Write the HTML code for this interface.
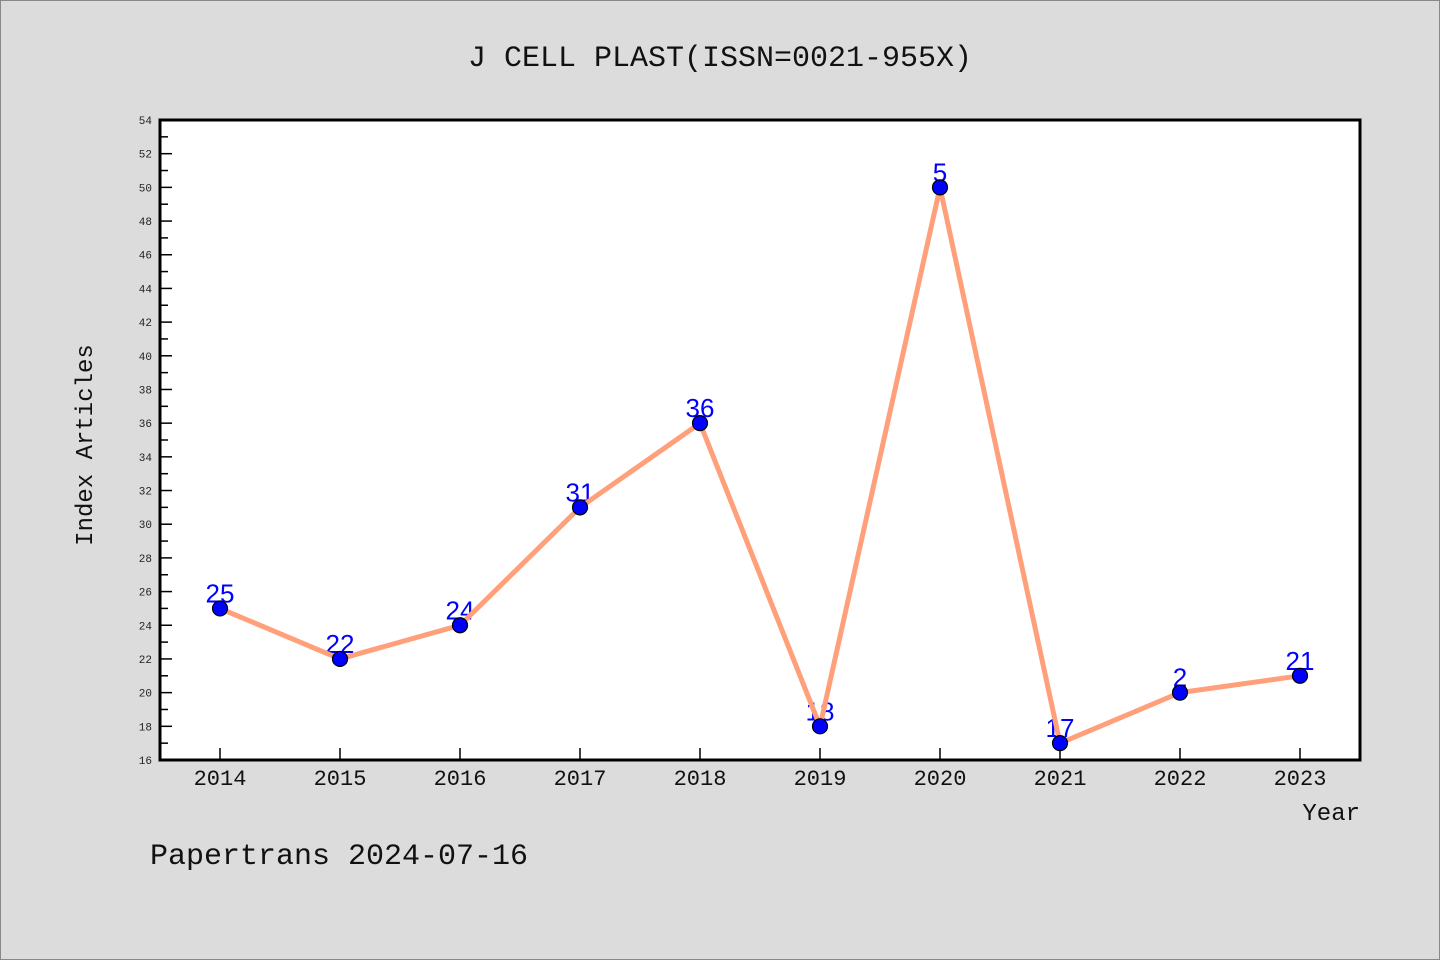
<!DOCTYPE html>
<html><head><meta charset="utf-8"><style>
html,body{margin:0;padding:0;background:#dcdcdc;}
svg{display:block;font-family:"Liberation Mono","DejaVu Sans Mono",monospace;}
</style></head><body>
<svg id="chart" width="1440" height="960" viewBox="0 0 1440 960">
<rect x="0.5" y="0.5" width="1439" height="959" fill="#dcdcdc" stroke="#888"/>
<text x="720" y="66" text-anchor="middle" font-size="30" fill="#111">J CELL PLAST(ISSN=0021-955X)</text>
<rect x="160" y="120" width="1200" height="640" fill="#fff"/>
<g id="yaxis"></g>
<g id="xaxis"></g>
<g id="labels"></g>
<g id="series"></g>
<rect x="160" y="120" width="1200" height="640" fill="none" stroke="#000" stroke-width="3"/>
<text x="92" y="445" text-anchor="middle" font-size="24" fill="#111" transform="rotate(-90 92 445)">Index Articles</text>
<text x="1360" y="820" text-anchor="end" font-size="24" fill="#111">Year</text>
<text x="150" y="864" font-size="30" fill="#111">Papertrans 2024-07-16</text>
</svg>
<script>
const years = ["2014","2015","2016","2017","2018","2019","2020","2021","2022","2023"];
const values = [25,22,24,31,36,18,50,17,20,21];
const pointLabels = ["25","22","24","31","36","18","5","17","2","21"];
const yMin = 16, yMax = 54;
const NS="http://www.w3.org/2000/svg";
function X(i){return 220+i*120;}
function Y(v){return 760-(v-yMin)*(640/(yMax-yMin));}
function mk(tag,attrs,parent){const e=document.createElementNS(NS,tag);for(const k in attrs)e.setAttribute(k,attrs[k]);parent.appendChild(e);return e;}
const ya=document.getElementById('yaxis');
for(let v=yMin;v<=yMax;v++){
  const major=(v%2===0);
  const t=mk('line',{x1:160,x2:160+(major?12:8),y1:Y(v),y2:Y(v),stroke:'#000','stroke-width':1.5},ya);
  
  
  if(major){
    const l=mk('text',{x:152,y:Y(v)+4,'text-anchor':'end','font-size':11,fill:'#222'},ya);
    l.textContent=v;
    
    
  }
}
const xa=document.getElementById('xaxis');
years.forEach((y,i)=>{
  const t=mk('line',{x1:X(i),x2:X(i),y1:760,y2:748,stroke:'#000','stroke-width':1.5},xa);
  
  
  const l=mk('text',{x:X(i),y:785,'text-anchor':'middle','font-size':22,fill:'#111'},xa);
  l.textContent=y;
  
  
});
const lab=document.getElementById('labels');
values.forEach((v,i)=>{
  const l=mk('text',{x:X(i),y:Y(v)-6,'text-anchor':'middle','font-size':26,fill:'#0000ff','font-family':'Liberation Sans, sans-serif'},lab);
  l.textContent=pointLabels[i];
  
  
});
const s=document.getElementById('series');
const pl=mk('polyline',{points:values.map((v,i)=>X(i)+','+Y(v)).join(' '),fill:'none',stroke:'#ffa07a','stroke-width':5,'stroke-linejoin':'round'},s);


values.forEach((v,i)=>{
  const c=mk('circle',{cx:X(i),cy:Y(v),r:7.5,fill:'#0000ff',stroke:'#000','stroke-width':1.2},s);
  
  
});
</script>
</body></html>
